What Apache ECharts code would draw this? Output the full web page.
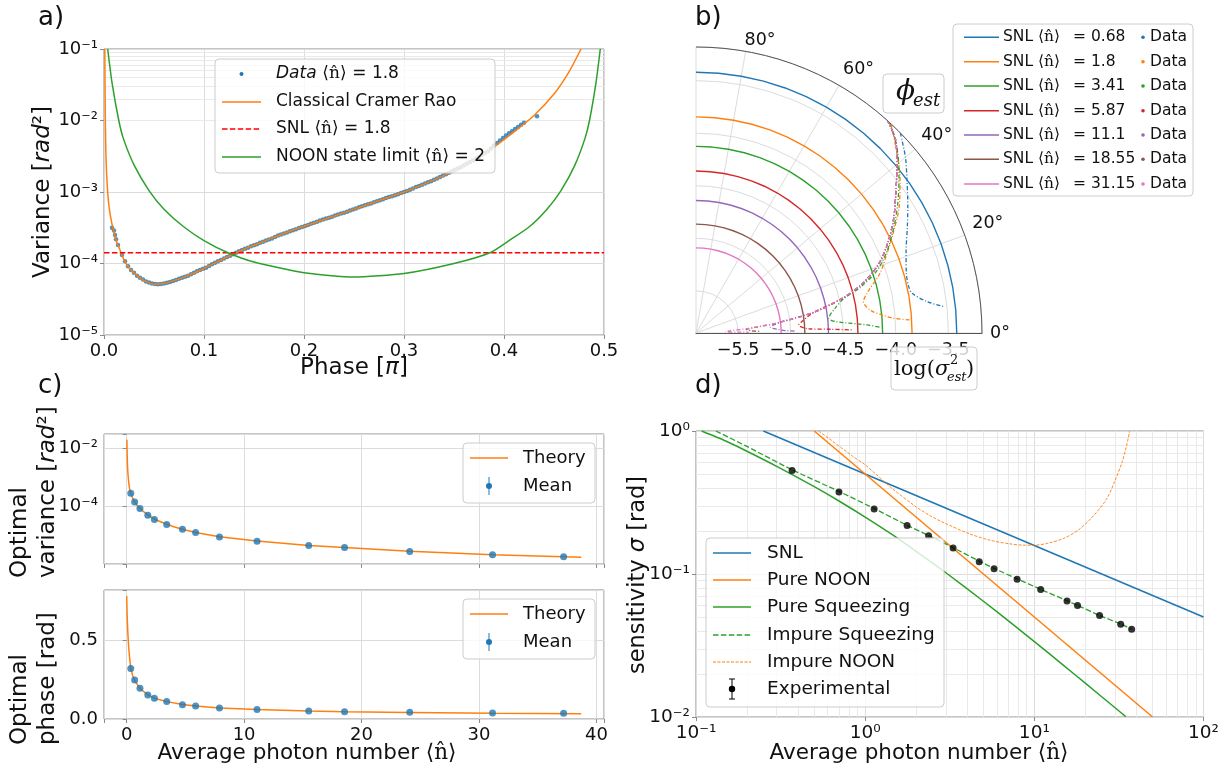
<!DOCTYPE html>
<html>
<head>
<meta charset="utf-8">
<title>chart</title>
<script src="https://cdn.jsdelivr.net/npm/echarts@6/dist/echarts.min.js"></script>
<style>
html,body{margin:0;padding:0;background:#ffffff;}
#chart{width:1222px;height:773px;}
</style>
</head>
<body>
<div id="chart"></div>
<script>
// ===================== DATA =====================
// ---- Panel a) : variance vs phase (phase in units of pi, variance stored as log10) ----
const crPhase = [0.0008,0.0012,0.0018,0.003,0.005,0.008,0.012,0.016,0.02,0.025,0.033,0.04,0.051,0.06,0.07,0.08,0.1,0.12,0.14,0.16,0.18,0.2,0.25,0.3,0.33,0.35,0.37,0.39,0.41,0.43,0.45,0.465,0.477];
const crLog10 = [-1.0,-1.8,-2.4,-2.85,-3.2,-3.45,-3.67,-3.81,-3.95,-4.06,-4.17,-4.24,-4.29,-4.28,-4.24,-4.19,-4.07,-3.93,-3.80,-3.69,-3.58,-3.48,-3.24,-3.0,-2.83,-2.70,-2.55,-2.37,-2.16,-1.93,-1.63,-1.32,-1.0];
const noonPhase = [0.0037,0.008,0.0148,0.0193,0.03,0.045,0.06,0.08,0.1,0.124,0.15,0.2,0.25,0.3,0.35,0.386,0.405,0.425,0.443,0.457,0.471,0.481,0.4855,0.492,0.4963];
const noonLog10 = [-1.0,-1.47,-2.0,-2.25,-2.62,-2.98,-3.24,-3.49,-3.68,-3.85,-3.98,-4.13,-4.19,-4.14,-4.0,-3.85,-3.68,-3.49,-3.24,-2.98,-2.62,-2.25,-2.0,-1.47,-1.0];
const snlVarA = 1.41e-4;
const dataAPhase = [0.008,0.010,0.011,0.012,0.014,0.018,0.024,0.030,0.036,0.042,0.048,0.054,0.060,0.066,0.072,0.078,0.084,0.090,0.096,0.102,0.108,0.114,0.120,0.126,0.132,0.138,0.144,0.150,0.156,0.162,0.168,0.174,0.180,0.186,0.192,0.198,0.204,0.210,0.216,0.222,0.228,0.234,0.240,0.246,0.252,0.258,0.264,0.270,0.276,0.282,0.288,0.294,0.300,0.306,0.312,0.318,0.324,0.330,0.336,0.342,0.348,0.354,0.360,0.366,0.372,0.378,0.384,0.390,0.396,0.402,0.408,0.414,0.420,0.433];
const dataALog10 = [-3.50,-3.54,-3.60,-3.66,-3.74,-3.88,-4.04,-4.13,-4.20,-4.25,-4.28,-4.29,-4.28,-4.26,-4.23,-4.20,-4.17,-4.13,-4.09,-4.06,-4.01,-3.97,-3.93,-3.89,-3.85,-3.81,-3.78,-3.745,-3.71,-3.68,-3.65,-3.61,-3.58,-3.55,-3.52,-3.49,-3.46,-3.43,-3.40,-3.37,-3.345,-3.315,-3.29,-3.26,-3.23,-3.20,-3.17,-3.145,-3.115,-3.085,-3.06,-3.03,-3.00,-2.97,-2.93,-2.90,-2.865,-2.83,-2.79,-2.75,-2.71,-2.67,-2.625,-2.58,-2.535,-2.48,-2.43,-2.35,-2.28,-2.21,-2.15,-2.09,-2.03,-1.94];
const dataAPhase2 = [0.021,0.027,0.033,0.039,0.045,0.051,0.057,0.063,0.069,0.075,0.081,0.087,0.093,0.099,0.105,0.111,0.117,0.123,0.129,0.135,0.141,0.147,0.153,0.159,0.165,0.171,0.177,0.183,0.189,0.195,0.201,0.207,0.213,0.219,0.225,0.231,0.237,0.243,0.249,0.255,0.261,0.267,0.273,0.279,0.285,0.291,0.297,0.303,0.309,0.315,0.321,0.327,0.333,0.339,0.345,0.351,0.357,0.363,0.369,0.375,0.381,0.387,0.393,0.399,0.405,0.411,0.417];
const dataALog10_2 = [-3.97,-4.09,-4.17,-4.225,-4.265,-4.285,-4.285,-4.27,-4.245,-4.215,-4.185,-4.15,-4.11,-4.075,-4.035,-3.99,-3.95,-3.91,-3.87,-3.83,-3.795,-3.76,-3.73,-3.695,-3.665,-3.63,-3.595,-3.565,-3.535,-3.505,-3.475,-3.445,-3.415,-3.385,-3.36,-3.33,-3.30,-3.275,-3.245,-3.215,-3.185,-3.16,-3.13,-3.10,-3.07,-3.045,-3.015,-2.985,-2.95,-2.915,-2.88,-2.85,-2.81,-2.77,-2.73,-2.69,-2.65,-2.60,-2.56,-2.51,-2.455,-2.39,-2.315,-2.245,-2.18,-2.12,-2.06];
const minorTicksA = [2e-5,3e-5,4e-5,5e-5,6e-5,7e-5,8e-5,9e-5,2e-4,3e-4,4e-4,5e-4,6e-4,7e-4,8e-4,9e-4,2e-3,3e-3,4e-3,5e-3,6e-3,7e-3,8e-3,9e-3,2e-2,3e-2,4e-2,5e-2,6e-2,7e-2,8e-2,9e-2];

// ---- Panel b) : polar, angle = estimated phase (deg), radius = log10(variance) ----
const snlN = ['0.68','1.8','3.41','5.87','11.1','18.55','31.15'];
const snlLogVarB = [-3.42,-3.845,-4.125,-4.36,-4.64,-4.865,-5.09];
const arcAngles = [0,5,10,15,20,25,30,35,40,45,50,55,60,65,70,75,80,85,90];
const bTheta = [
  [44.4,40,36,31,26.7,21,15.9,12.5,10.4,7.7,6.1],
  [47,42,37,32,26.8,22,18,13.1,10.6,7.5,5.5,4.3,3.5],
  [47.5,43,38,33,28,23,19,15.5,13.2,10,6.3,4.6,2.7,1.8],
  [48,44,39.6,35,30,25,20.5,16.5,13.2,10,6.5,4.5,2.2,1.6,1.1],
  [48,44,39.6,35,30,25,20.5,16.5,13.2,10,7.2,5.5,4.4,2.5,1.5,1.0],
  [48,44,39.6,35,30,25,20.5,16.5,13.2,10,7.2,5.2,4.0,2.5,1.3],
  [48,44,39.6,35,30,25,20.5,16.5,13.2,10,7.2,5.0,3.5,2.2,1.2,0.8]
];
const bR = [
  [-3.18,-3.30,-3.42,-3.55,-3.65,-3.76,-3.82,-3.83,-3.81,-3.68,-3.53],
  [-3.18,-3.33,-3.47,-3.62,-3.80,-3.95,-4.06,-4.23,-4.28,-4.23,-4.12,-4.02,-3.86],
  [-3.18,-3.29,-3.45,-3.61,-3.77,-3.93,-4.08,-4.28,-4.45,-4.56,-4.63,-4.56,-4.27,-4.15],
  [-3.18,-3.26,-3.42,-3.58,-3.73,-3.89,-4.05,-4.25,-4.48,-4.76,-4.88,-4.92,-4.84,-4.62,-4.40],
  [-3.18,-3.26,-3.42,-3.58,-3.73,-3.89,-4.05,-4.25,-4.48,-4.76,-5.10,-5.17,-5.19,-5.12,-5.04,-4.95],
  [-3.18,-3.26,-3.42,-3.58,-3.73,-3.89,-4.05,-4.25,-4.48,-4.76,-5.10,-5.35,-5.42,-5.38,-5.28],
  [-3.18,-3.26,-3.42,-3.58,-3.73,-3.89,-4.05,-4.25,-4.48,-4.76,-5.10,-5.40,-5.60,-5.62,-5.50,-5.40]
];

// ---- Panel c) : optimal variance / phase vs mean photon number ----
const cN = [0.35,0.68,1.13,1.8,2.36,3.41,4.75,5.87,7.9,11.1,15.5,18.55,24.1,31.15,37.2];
const cVar = [2.79e-4,1.41e-4,8.3e-5,4.9e-5,3.49e-5,2.35e-5,1.58e-5,1.22e-5,8.66e-6,6.15e-6,4.36e-6,3.73e-6,2.72e-6,2.09e-6,1.78e-6];
const cPhase = [0.323,0.249,0.196,0.153,0.132,0.111,0.0915,0.083,0.070,0.060,0.051,0.047,0.043,0.038,0.036];
const thVarN = [0.02,0.04,0.07,0.1,0.15,0.2,0.25,0.35,0.5,0.68,0.9,1.13,1.5,1.8,2.36,3.0,3.41,4.0,4.75,5.87,7.9,11.1,15.5,18.55,24.1,31.15,37.2,38.7];
const thVar = [2.0e-2,6.5e-3,2.6e-3,1.5e-3,8.5e-4,5.5e-4,4.0e-4,2.8e-4,1.95e-4,1.42e-4,1.05e-4,8.4e-5,6.2e-5,5.0e-5,3.55e-5,2.8e-5,2.4e-5,1.95e-5,1.6e-5,1.24e-5,8.8e-6,6.2e-6,4.4e-6,3.7e-6,2.75e-6,2.1e-6,1.78e-6,1.7e-6];
const thPhN = [0.003,0.02,0.05,0.1,0.17,0.25,0.35,0.5,0.68,1.13,1.8,2.36,3.41,4.75,5.87,7.9,11.1,15.5,18.55,24.1,31.15,38.7];
const thPh = [0.785,0.72,0.64,0.55,0.46,0.39,0.325,0.28,0.247,0.195,0.154,0.133,0.111,0.092,0.083,0.071,0.060,0.051,0.047,0.042,0.037,0.034];

// ---- Panel d) : sensitivity vs mean photon number ----
const snlD = [[0.25,1.0],[100,0.05]];
const pureNoonD = [[0.5,1.0],[50,0.01]];
const sqzN = [0.108,0.15,0.2,0.3,0.5,0.7,1,1.5,2,3,5,7,10,15,20,30,34.7];
const sqzSigma = [1.0,0.851,0.722,0.566,0.408,0.324,0.25,0.183,0.144,0.102,0.0645,0.0472,0.0337,0.0228,0.01725,0.0116,0.01005];
const impSqzN = [0.131,0.2,0.37,0.7,1.13,1.77,2.37,3.31,4.72,5.78,7.91,10.9,15.6,18.0,24.3,32.4,37.6];
const impSqzSigma = [1.0,0.78,0.535,0.378,0.287,0.219,0.186,0.153,0.123,0.1095,0.0925,0.0781,0.065,0.0603,0.0513,0.0447,0.0411];
const impNoonN = [0.53,0.6,0.84,1.0,1.43,2.0,2.43,3.0,4.14,5.5,7.05,8.7,10,12,15,18.3,22,26.6,30,32.9,35,36.6];
const impNoonSigma = [1.0,0.9,0.668,0.58,0.40,0.295,0.255,0.225,0.191,0.172,0.163,0.159,0.159,0.164,0.178,0.204,0.25,0.331,0.45,0.60,0.78,1.0];
const expN = [0.37,0.7,1.13,1.77,2.37,3.31,4.72,5.78,7.91,10.9,15.6,18.0,24.3,32.4,37.6];
const expSigma = [0.530,0.375,0.285,0.218,0.185,0.152,0.122,0.109,0.092,0.0778,0.0648,0.0601,0.0512,0.0445,0.041];
const minorTicksDX = [0.2,0.3,0.4,0.5,0.6,0.7,0.8,0.9,2,3,4,5,6,7,8,9,20,30,40,50,60,70,80,90];
const minorTicksDY = [0.02,0.03,0.04,0.05,0.06,0.07,0.08,0.09,0.2,0.3,0.4,0.5,0.6,0.7,0.8,0.9];

// ===================== STYLE =====================
const FONT = 'DejaVu Sans', SERIF = 'DejaVu Serif';
const INK = '#111111', SPINE = '#8a8a8a', GRIDC = '#dcdcdc', GRIDMIN = '#e9e9e9';
const C = {blue:'#1f77b4', orange:'#ff7f0e', green:'#2ca02c', red:'#d62728', purple:'#9467bd', brown:'#8c564b', pink:'#e377c2'};
const snlColors = [C.blue, C.orange, C.green, C.red, C.purple, C.brown, C.pink];
const SUP = {'-':'\u207B','0':'\u2070','1':'\u00B9','2':'\u00B2','3':'\u00B3','4':'\u2074','5':'\u2075','6':'\u2076','7':'\u2077','8':'\u2078','9':'\u2079'};
const NHAT = '\u27E8n\u0302\u27E9';
function pow10(v){ const e = Math.round(Math.log10(v)); return '10' + String(e).split('').map(c => SUP[c]).join(''); }
function isPow(v){ const l = Math.log10(v); return Math.abs(l - Math.round(l)) < 1e-6; }
const zip = (xs, ys, f) => xs.map((x,i) => [x, f ? f(ys[i]) : ys[i]]);
const p10 = v => Math.pow(10, v);

function baseAxis(o){
  return Object.assign({
    axisLine:{show:false},
    axisTick:{show:true, length:4, lineStyle:{color:SPINE}},
    axisLabel:{fontFamily:FONT, fontSize:18, color:INK, margin:7},
    splitLine:{show:true, lineStyle:{color:GRIDC, width:1}}
  }, o);
}
function minorGrid(xi, yi, key, vals){
  return {type:'line', xAxisIndex:xi, yAxisIndex:yi, data:[], z:0, silent:true,
    markLine:{silent:true, z:0, symbol:['none','none'], label:{show:false}, animation:false,
      lineStyle:{color:GRIDMIN, type:'solid', width:1}, emphasis:{disabled:true},
      data: vals.map(v => ({[key]: v}))}};
}

// ===================== GRAPHICS (labels, legends) =====================
const G = [];
function txt(x, y, text, o){
  o = o || {};
  G.push({type:'text', x:x, y:y, rotation:o.rot || 0, z:120, silent:true,
    style:{text:text, fill:INK, fontFamily:o.family || FONT, fontSize:o.size || 18,
      fontStyle:o.italic ? 'italic' : 'normal', align:o.align || 'left',
      verticalAlign:o.va || 'middle', rich:o.rich, lineHeight:o.lh}});
}
function box(x, y, w, h){
  G.push({type:'rect', z:110, silent:true, shape:{x:x, y:y, width:w, height:h, r:4},
    style:{fill:'rgba(255,255,255,0.8)', stroke:'#cccccc', lineWidth:1}});
}
function sample(x1, x2, y, color, dash, width){
  G.push({type:'line', z:115, silent:true, shape:{x1:x1, y1:y, x2:x2, y2:y},
    style:{stroke:color, lineWidth:width || 1.5, lineDash:dash || null}});
}
function dot(x, y, r, color){
  G.push({type:'circle', z:116, silent:true, shape:{cx:x, cy:y, r:r}, style:{fill:color}});
}
function seg(x1, y1, x2, y2, color, w){
  G.push({type:'line', z:116, silent:true, shape:{x1:x1, y1:y1, x2:x2, y2:y2}, style:{stroke:color, lineWidth:w || 1}});
}
const RICH = function(size){ return {
  n:{fontFamily:FONT, fontSize:size, color:INK},
  i:{fontFamily:FONT, fontSize:size, color:INK, fontStyle:'italic'},
  m:{fontFamily:SERIF, fontSize:size, color:INK}
};};

// panel letters
txt(38, 18, 'a)', {size:26});
txt(695, 18, 'b)', {size:26});
txt(38, 386, 'c)', {size:26});
txt(695, 386, 'd)', {size:26});

// panel a axis titles
txt(354, 368, '{n|Phase [}{i|\u03C0}{n|]}', {align:'center', rich:RICH(23)});
txt(43, 192, '{n|Variance [}{i|rad}{n|\u00B2]}', {align:'center', rot:Math.PI/2, rich:RICH(23)});

// panel a legend
const legA = [
  {kind:'dot', color:C.blue, text:'{i|Data} {m|' + NHAT + '} {n|= 1.8}'},
  {kind:'line', color:C.orange, text:'{n|Classical Cramer Rao}'},
  {kind:'dash', color:'#ff0000', text:'{n|SNL }{m|' + NHAT + '}{n| = 1.8}'},
  {kind:'line', color:C.green, text:'{n|NOON state limit }{m|' + NHAT + '}{n| = 2}'}
];
const legAy = [74, 102, 129, 157];
box(215, 59, 280, 114);
legA.forEach((it, k) => {
  const y = legAy[k];
  if (it.kind === 'dot') dot(241.5, y, 2, it.color);
  else sample(222, 261, y, it.color, it.kind === 'dash' ? [5.5, 2.4] : null, 1.5);
  txt(276, y, it.text, {rich:RICH(17)});
});

// panel b labels + legend
txt(760, 40, '80\u00B0', {size:17.5, align:'center'});
box(883, 74, 61, 39);
txt(896, 92, '\u03D5', {family:SERIF, size:28, italic:true});
txt(913, 101, 'est', {family:SERIF, size:18, italic:true});
box(891, 347, 86, 43);
txt(894, 370, '{r|log(}{s|\u03C3}', {rich:{r:{fontFamily:SERIF, fontSize:21, color:INK}, s:{fontFamily:SERIF, fontSize:21, color:INK, fontStyle:'italic'}}});
txt(950, 361, '2', {family:SERIF, size:13});
txt(947, 378, 'est', {family:SERIF, size:13, italic:true});
txt(966, 370, ')', {family:SERIF, size:21});
const legBy = [37.3, 61.7, 86, 110.7, 135, 159.3, 184];
box(953, 24, 240, 172);
snlN.forEach((n, k) => {
  const y = legBy[k];
  sample(964, 999, y, snlColors[k], null, 1.5);
  txt(1003, y, '{n|SNL }{m|' + NHAT + '}', {rich:RICH(15.5)});
  txt(1073, y, '= ' + n, {size:15.5});
  dot(1143, y, 1.8, snlColors[k]);
  txt(1150, y, 'Data', {size:15.5});
});

// panel c labels + legends
txt(307, 753, '{n|Average photon number }{m|' + NHAT + '}', {align:'center', rich:RICH(21.5)});
txt(34, 578, '{n|Optimal}\n{n|variance [}{i|rad}{n|\u00B2]}', {rot:Math.PI/2, align:'left', rich:{
  n:{fontFamily:FONT, fontSize:23, color:INK, lineHeight:28}, i:{fontFamily:FONT, fontSize:23, color:INK, fontStyle:'italic', lineHeight:28}}});
txt(34, 745, '{n|Optimal}\n{n|phase [rad]}', {rot:Math.PI/2, align:'left', rich:{
  n:{fontFamily:FONT, fontSize:23, color:INK, lineHeight:28}}});
[[443, 458, 486], [599, 614, 642]].forEach(b => {
  box(463, b[0], 132, 60);
  sample(470, 508, b[1], C.orange, null, 1.5);
  txt(523, b[1], 'Theory', {size:18});
  seg(489, b[2] - 9, 489, b[2] + 9, C.blue, 1);
  dot(489, b[2], 3, C.blue);
  txt(523, b[2], 'Mean', {size:18});
});

// panel d labels + legend
txt(919, 753, '{n|Average photon number }{m|' + NHAT + '}', {align:'center', rich:RICH(21.5)});
txt(638, 575, '{n|sensitivity }{i|\u03C3}{n| [rad]}', {align:'center', rot:Math.PI/2, rich:RICH(22.5)});
const legD = [
  {text:'SNL', color:C.blue, dash:null, w:1.5},
  {text:'Pure NOON', color:C.orange, dash:null, w:1.5},
  {text:'Pure Squeezing', color:C.green, dash:null, w:1.5},
  {text:'Impure Squeezing', color:C.green, dash:[5.5, 2.4], w:1.5},
  {text:'Impure NOON', color:C.orange, dash:[3, 1.5], w:1},
  {text:'Experimental', color:'#000000', dash:'err', w:1}
];
const legDy = [553, 580, 607, 635, 662, 689];
box(706, 538, 238, 169);
legD.forEach((it, k) => {
  const y = legDy[k];
  if (it.dash === 'err') {
    seg(732, y - 10, 732, y + 10, '#000', 1);
    seg(729, y - 10, 735, y - 10, '#000', 1);
    seg(729, y + 10, 735, y + 10, '#000', 1);
    dot(732, y, 3.2, '#000');
  } else sample(713, 751, y, it.color, it.dash, it.w);
  txt(767, y, it.text, {size:18.5});
});

// ===================== OPTION =====================
const cFmt = v => (Math.abs(v / 10 - Math.round(v / 10)) < 1e-6) ? String(Math.round(v)) : '';
const option = {
  animation:false,
  backgroundColor:'#ffffff',
  textStyle:{fontFamily:FONT},
  grid:[
    {left:104, top:49, width:500, height:286, show:true, borderColor:SPINE, borderWidth:1, backgroundColor:'transparent'},
    {left:104, top:434, width:500, height:130, show:true, borderColor:SPINE, borderWidth:1, backgroundColor:'transparent'},
    {left:104, top:590, width:500, height:129, show:true, borderColor:SPINE, borderWidth:1, backgroundColor:'transparent'},
    {left:696, top:431, width:512, height:286, show:true, borderColor:SPINE, borderWidth:1, backgroundColor:'transparent'}
  ],
  xAxis:[
    baseAxis({gridIndex:0, type:'value', min:0, max:0.5, interval:0.1, axisLabel:{fontFamily:FONT, fontSize:18, color:INK, margin:7, formatter:v => v.toFixed(1)}}),
    baseAxis({gridIndex:1, type:'value', min:-1.93, max:40.64, axisLabel:{show:false}}),
    baseAxis({gridIndex:2, type:'value', min:-1.93, max:40.64, axisLabel:{fontFamily:FONT, fontSize:18, color:INK, margin:7, formatter:cFmt}}),
    baseAxis({gridIndex:3, type:'log', logBase:10, min:0.1, max:100, axisLabel:{fontFamily:FONT, fontSize:18.5, color:INK, margin:7, formatter:pow10}})
  ],
  yAxis:[
    baseAxis({gridIndex:0, type:'log', logBase:10, min:1e-5, max:1e-1, axisLabel:{fontFamily:FONT, fontSize:18, color:INK, margin:6, formatter:pow10}}),
    baseAxis({gridIndex:1, type:'log', logBase:100, min:1e-6, max:0.0316, axisLabel:{fontFamily:FONT, fontSize:18, color:INK, margin:6,
      formatter:v => (isPow(v) && (Math.round(Math.log10(v)) === -4 || Math.round(Math.log10(v)) === -2)) ? pow10(v) : ''}}),
    baseAxis({gridIndex:2, type:'value', min:0, max:0.824, interval:0.5, axisLabel:{fontFamily:FONT, fontSize:18, color:INK, margin:6,
      formatter:v => (Math.abs(v) < 1e-9 || Math.abs(v - 0.5) < 1e-9) ? v.toFixed(1) : ''}}),
    baseAxis({gridIndex:3, type:'log', logBase:10, min:0.01, max:1, axisLabel:{fontFamily:FONT, fontSize:18.5, color:INK, margin:6, formatter:pow10}})
  ],
  polar:{center:[696, 333], radius:286},
  angleAxis:{type:'value', min:0, max:90, startAngle:0, endAngle:90, clockwise:false, interval:20,
    axisLine:{show:true, lineStyle:{color:'#555555', width:1}}, axisTick:{show:false},
    axisLabel:{fontFamily:FONT, fontSize:17.5, color:INK, margin:8, formatter:v => (v >= 80) ? '' : v + '\u00B0'},
    splitLine:{show:true, lineStyle:{color:GRIDC, width:1}}},
  radiusAxis:{type:'value', min:-5.9, max:-3.18,
    axisLine:{show:true, lineStyle:{color:'#555555', width:1}}, axisTick:{show:false},
    axisLabel:{fontFamily:FONT, fontSize:17.5, color:INK, margin:-26,
      formatter:v => (Math.abs(v * 2 - Math.round(v * 2)) < 1e-6) ? v.toFixed(1).replace('-', '\u2212') : ''},
    splitLine:{show:true, lineStyle:{color:GRIDC, width:1}}},
  graphic:{elements:G},
  series:[]
};

// ---- panel a series ----
option.series.push(minorGrid(0, 0, 'yAxis', minorTicksA));
option.series.push({type:'scatter', xAxisIndex:0, yAxisIndex:0, symbolSize:4.5, z:3, silent:true,
  itemStyle:{color:C.blue}, data:zip(dataAPhase, dataALog10, p10).concat(zip(dataAPhase2, dataALog10_2, p10))});
option.series.push({type:'line', xAxisIndex:0, yAxisIndex:0, showSymbol:false, z:4, silent:true, smooth:0.2,
  lineStyle:{color:C.orange, width:1.5}, data:zip(crPhase, crLog10, p10)});
option.series.push({type:'line', xAxisIndex:0, yAxisIndex:0, showSymbol:false, z:4, silent:true,
  lineStyle:{color:'#ff0000', width:1.5, type:[5.5, 2.4]}, data:[[0, snlVarA], [0.5, snlVarA]]});
option.series.push({type:'line', xAxisIndex:0, yAxisIndex:0, showSymbol:false, z:4, silent:true, smooth:0.2,
  lineStyle:{color:C.green, width:1.5}, data:zip(noonPhase, noonLog10, p10)});

// ---- panel b series ----
snlLogVarB.forEach((r, k) => {
  option.series.push({type:'line', coordinateSystem:'polar', showSymbol:false, z:3, silent:true,
    lineStyle:{color:snlColors[k], width:1.4}, data:arcAngles.map(a => [r, a])});
});
bTheta.forEach((th, k) => {
  option.series.push({type:'line', coordinateSystem:'polar', showSymbol:false, z:4, silent:true, smooth:0.3,
    lineStyle:{color:snlColors[k], width:1.3, type:[4, 2, 1, 2]}, data:th.map((t, i) => [bR[k][i], t])});
});

// ---- panel c series ----
option.series.push({type:'line', xAxisIndex:1, yAxisIndex:1, showSymbol:false, z:3, silent:true,
  lineStyle:{color:C.orange, width:1.5}, data:zip(thVarN, thVar)});
option.series.push({type:'scatter', xAxisIndex:1, yAxisIndex:1, symbolSize:7, z:4, silent:true,
  itemStyle:{color:C.blue}, data:zip(cN, cVar)});
option.series.push({type:'line', xAxisIndex:2, yAxisIndex:2, showSymbol:false, z:3, silent:true,
  lineStyle:{color:C.orange, width:1.5}, data:zip(thPhN, thPh)});
option.series.push({type:'scatter', xAxisIndex:2, yAxisIndex:2, symbolSize:7, z:4, silent:true,
  itemStyle:{color:C.blue}, data:zip(cN, cPhase)});

// ---- panel d series ----
option.series.push(minorGrid(3, 3, 'xAxis', minorTicksDX));
option.series.push(minorGrid(3, 3, 'yAxis', minorTicksDY));
option.series.push({type:'line', xAxisIndex:3, yAxisIndex:3, showSymbol:false, z:3, silent:true,
  lineStyle:{color:C.blue, width:1.5}, data:snlD});
option.series.push({type:'line', xAxisIndex:3, yAxisIndex:3, showSymbol:false, z:3, silent:true,
  lineStyle:{color:C.orange, width:1.5}, data:pureNoonD});
option.series.push({type:'line', xAxisIndex:3, yAxisIndex:3, showSymbol:false, z:3, silent:true, smooth:0.2,
  lineStyle:{color:C.green, width:1.5}, data:zip(sqzN, sqzSigma)});
option.series.push({type:'line', xAxisIndex:3, yAxisIndex:3, showSymbol:false, z:3, silent:true, smooth:0.2,
  lineStyle:{color:C.green, width:1.3, type:[5.5, 2.4]}, data:zip(impSqzN, impSqzSigma)});
option.series.push({type:'line', xAxisIndex:3, yAxisIndex:3, showSymbol:false, z:3, silent:true, smooth:0.3,
  lineStyle:{color:C.orange, width:0.9, type:[3, 1.5]}, data:zip(impNoonN, impNoonSigma)});
option.series.push({type:'scatter', xAxisIndex:3, yAxisIndex:3, symbolSize:7, z:5, silent:true,
  itemStyle:{color:'#000000'}, data:zip(expN, expSigma)});

const chart = echarts.init(document.getElementById('chart'), null, {renderer:'canvas'});
chart.setOption(option);
</script>
</body>
</html>
